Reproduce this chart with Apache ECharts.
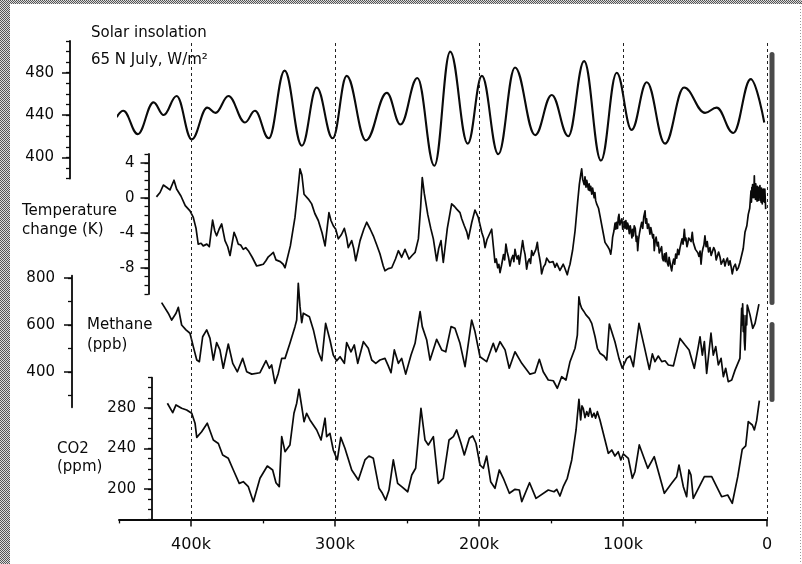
<!DOCTYPE html>
<html><head><meta charset="utf-8">
<script src="https://cdn.jsdelivr.net/npm/echarts@6/dist/echarts.min.js"></script>
<style>html,body{margin:0;padding:0;background:#fff}#c{width:802px;height:564px}</style>
</head><body><div id="c"></div><script>
// ---- DATA (age in thousands of years before present, value) ----
const ageTickLabels = [0, 100, 200, 300, 400];
const ageMinorTicks = [50, 150, 250, 350, 450];
const dashedAges = [0, 100, 200, 300, 400];

const solarSeries = [[451.6,438],[447,444],[437,422],[426,452],[419,440],[410,458],[399.5,417],[388.7,447],[383,442],[374,458],[362.5,433],[355.6,444],[346,418],[335,482],[323,411],[312.7,466],[301.6,418],[291.9,477],[278.5,416],[264,461],[254.5,431],[242.8,475],[231,392],[220,500],[207.8,413],[198,477],[186.6,403],[175,485],[161,421],[149.5,459],[138,420],[127,491],[115.3,397],[104.4,480],[94,426],[83.5,471],[70.8,413],[57.6,466],[43,442],[35,447],[23.4,423],[11.3,474],[1.9,433]];

const tempSeries = [[424,0.1],[421.5,0.6],[419.2,1.45],[417,1.2],[414.6,0.9],[411.8,2.0],[410,1.0],[407,0.2],[404,-0.9],[400.7,-1.5],[398.4,-2.25],[396.5,-3.5],[395,-5.3],[393,-5.2],[391.5,-5.5],[389,-5.3],[387.3,-5.6],[385,-2.55],[383.5,-3.8],[382.2,-4.35],[380.5,-3.6],[378.7,-3.0],[376.4,-4.9],[374.5,-5.6],[372.9,-6.6],[370.1,-3.95],[368.5,-4.6],[367.2,-5.3],[365.5,-5.4],[363.7,-5.9],[362,-5.7],[360.2,-6.05],[357.5,-6.8],[354.4,-7.8],[352,-7.7],[349.8,-7.6],[348,-7.2],[346.3,-6.75],[344.5,-6.5],[342.8,-6.25],[341,-7.1],[338,-7.3],[336,-7.6],[334.7,-8.0],[331,-5.5],[327.8,-2.25],[326,0.5],[324.3,3.3],[323,2.6],[321.5,0.4],[320.8,0.2],[318.5,-0.15],[316.2,-0.7],[314,-1.8],[311.6,-2.6],[309,-4.0],[306.9,-5.5],[304.2,-1.7],[302.8,-2.6],[301.2,-3.2],[299.5,-3.6],[297.7,-4.7],[295.5,-4.2],[293.5,-3.5],[292,-4.5],[290.8,-5.7],[288.4,-4.9],[287,-5.8],[285.6,-7.2],[284,-6.0],[282.6,-4.9],[280,-3.6],[278,-2.8],[275.5,-3.6],[273.4,-4.35],[271,-5.4],[268.8,-6.4],[266.5,-7.8],[265.3,-8.35],[263,-8.1],[260.6,-8.0],[258,-7.0],[256,-6.05],[253.7,-6.8],[251.4,-5.9],[248.6,-7.0],[246.5,-6.6],[244.4,-6.25],[242.1,-4.7],[240.5,-1.0],[239.4,2.3],[238,0.5],[235.6,-1.9],[233.5,-3.5],[231.7,-4.7],[229.4,-7.2],[228,-5.8],[226.4,-4.9],[224.8,-7.4],[222,-3.5],[219,-0.7],[217,-1.0],[215.5,-1.3],[213.2,-1.7],[212,-2.4],[210.2,-3.2],[208.5,-3.9],[207.4,-4.7],[205,-2.8],[202.8,-1.4],[200.5,-2.25],[198,-4.0],[196.8,-4.6],[195.8,-5.7],[194.5,-4.8],[193.5,-4.6],[192.3,-4.0],[191.2,-3.6],[190,-5.6],[188.9,-7.4],[188,-7.0],[187,-8.0],[186.2,-7.6],[185.4,-8.55],[184.2,-7.6],[183,-6.5],[182.2,-7.1],[181.3,-5.3],[180.4,-6.2],[179.5,-6.8],[178.5,-7.8],[177.5,-7.0],[176.5,-6.6],[175.8,-7.3],[175,-5.9],[174.2,-6.6],[173.5,-7.0],[172.7,-6.6],[172,-7.6],[170.8,-6.2],[169.7,-4.9],[168.8,-5.9],[168,-6.5],[167.4,-7.4],[166.9,-8.15],[166,-7.3],[165,-7.0],[164.2,-7.5],[163.4,-6.05],[162.4,-6.6],[161.5,-6.8],[160.5,-5.9],[159.5,-5.1],[158.8,-6.1],[158,-6.8],[157.2,-7.6],[156.5,-8.7],[155.2,-7.9],[154,-7.6],[153,-6.9],[151.9,-6.8],[151,-7.4],[150,-7.6],[148.6,-7.3],[147.2,-7.95],[146,-7.5],[145,-7.6],[143.8,-8.3],[142.6,-8.15],[141.5,-7.6],[140.5,-8.0],[139.6,-8.4],[138.7,-8.8],[137.7,-8.1],[136.8,-7.6],[135,-6.0],[133.3,-3.8],[131.5,-0.5],[130.3,1.55],[129.4,2.6],[128.7,3.3],[128,2.1],[127.5,2.2],[127,1.5],[126.4,2.4],[125.7,1.2],[125.2,2.0],[124.5,1.9],[124,0.9],[123.5,1.6],[123,0.8],[122.4,1.3],[121.7,0.4],[121.1,1.1],[120.5,0.9],[120,0.0],[119.5,0.6],[119,-0.3],[118.3,-0.7],[117,-1.2],[116,-2.05],[114,-3.8],[112.5,-5.1],[111.5,-5.0],[110.5,-5.6],[109.5,-5.9],[108.5,-6.45],[107.8,-5.6],[107.2,-4.5],[106.3,-3.8],[105.5,-2.9],[105,-3.6],[104.5,-2.8],[103.8,-3.5],[103.3,-2.3],[102.8,-1.9],[102.2,-3.1],[101.5,-3.0],[100.8,-2.4],[100.2,-3.6],[99.8,-3.4],[99.2,-2.7],[98.6,-3.5],[98,-2.6],[97.3,-3.6],[96.8,-2.9],[96.3,-3.2],[95.6,-4.1],[95,-3.2],[94.5,-3.7],[93.8,-4.6],[93.3,-3.6],[92.8,-4.35],[92.2,-3.2],[91.5,-3.5],[90.8,-5.0],[90.3,-4.4],[89.8,-6.05],[89.2,-4.8],[88.5,-4.0],[87.8,-3.4],[87,-2.8],[86.3,-3.5],[85.6,-2.2],[84.7,-1.5],[84.2,-2.9],[83.6,-2.4],[83,-3.5],[82.2,-3.0],[81.3,-4.15],[80.7,-3.4],[80,-3.2],[79.3,-4.6],[78.8,-4.2],[78.3,-6.05],[77.7,-5.0],[77,-4.5],[76.2,-5.5],[75.5,-5.1],[74.8,-6.3],[74,-6.2],[73.2,-5.6],[72.6,-6.9],[72,-7.2],[71.2,-6.4],[70.6,-7.3],[70,-6.3],[69.3,-7.4],[68.5,-7.8],[68,-6.8],[67.5,-6.9],[66.8,-7.9],[66.2,-8.35],[65.5,-7.5],[64.8,-7.0],[64.1,-7.6],[63.4,-6.45],[62.7,-6.9],[62,-5.9],[61.2,-6.5],[60.4,-5.7],[59.7,-5.2],[59,-4.7],[58.3,-5.3],[57.4,-3.6],[56.8,-4.9],[56.3,-4.6],[55.6,-5.6],[55.1,-5.3],[54.4,-4.6],[53.5,-4.5],[52.7,-5.0],[51.9,-3.95],[51.2,-5.1],[50.5,-4.9],[49.7,-5.9],[48.8,-5.7],[48,-6.3],[47.3,-6.7],[46.5,-6.1],[45.8,-7.6],[45.1,-6.3],[44.5,-5.8],[43.8,-5.4],[43.1,-4.35],[42.3,-5.6],[41.5,-5.0],[40.6,-6.2],[39.6,-5.7],[38.8,-6.6],[38,-6.4],[37,-5.7],[36.1,-6.05],[35.3,-7.1],[34.5,-7.0],[33.6,-6.2],[32.6,-6.8],[31.8,-7.6],[31,-7.5],[30.1,-7.0],[29.2,-7.8],[28.3,-7.2],[27.5,-6.9],[26.6,-7.7],[25.7,-7.2],[24.9,-7.9],[24.1,-8.7],[23.1,-7.9],[22,-7.6],[21,-8.3],[19.9,-8.0],[18.8,-7.4],[17.6,-7.6],[16.5,-5.8],[15.3,-3.95],[14,-3.2],[13,-1.9],[12,-1.2],[11.1,0.8],[10.8,-0.5],[10.5,1.2],[10.2,0.0],[10,1.5],[9.7,0.2],[9.5,1.0],[9.2,0.0],[8.8,2.5],[8.5,0.4],[8.3,1.3],[8.0,-0.2],[7.8,1.6],[7.5,0.1],[7.2,1.0],[6.9,-0.4],[6.7,1.3],[6.4,0.0],[6.2,1.1],[5.9,-0.3],[5.6,1.2],[5.3,0.1],[4.9,1.4],[4.6,-0.3],[4.4,0.9],[4.1,-0.5],[3.8,1.1],[3.5,0.0],[3.3,-0.7],[3.0,0.9],[2.8,-0.2],[2.5,1.0],[2.3,-0.4],[2.0,0.8],[1.8,-0.5],[1.5,1.0],[1.2,-0.2],[0.9,-1.3]];

const methaneSeries = [[420.4,695],[415.8,650],[413.4,621],[410.4,650],[408.8,675],[406.5,600],[403.5,579],[400.7,565],[398.4,508],[396,451],[394.2,444],[391.9,550],[389.1,579],[386.8,543],[384.5,451],[382.2,525],[379.9,494],[377.6,416],[374.1,519],[371,437],[367.8,401],[364.1,458],[361.3,401],[357.8,391],[352.1,397],[347.9,448],[345.6,416],[344,430],[341.7,352],[339.4,394],[337,458],[334.7,458],[331.3,522],[327.8,593],[326.6,621],[325.5,777],[324.3,678],[323.1,610],[322,650],[320.8,643],[317.8,635],[315,579],[311.6,486],[309.2,448],[306.5,607],[303.5,536],[301.2,472],[298.8,448],[296.5,465],[293.5,437],[291.9,525],[288.9,486],[286.6,515],[284.2,437],[280.3,529],[276.9,501],[274.5,451],[271.7,437],[268.8,451],[265.3,458],[263,426],[261.1,397],[258.8,494],[256,437],[253.7,458],[250.9,391],[247.2,472],[244.4,522],[240.9,657],[239.4,593],[236.3,536],[234,451],[229.4,539],[225.9,494],[223.1,486],[219.4,593],[216.7,586],[213.2,522],[209.7,423],[205.1,621],[202.8,572],[199.3,465],[194.7,444],[190.1,522],[188.2,486],[185.4,529],[181.9,494],[179,416],[175,486],[170.3,437],[164.6,391],[161.1,397],[158.1,454],[155.4,401],[151.9,366],[148.4,363],[145.6,331],[142.6,380],[139.6,366],[136.8,444],[133.3,501],[131.7,557],[130.6,720],[129.8,690],[128.7,671],[127.4,660],[125.7,643],[123.5,628],[121.7,607],[119.4,550],[117.8,501],[116,480],[113.2,468],[111.3,451],[109.5,604],[105.6,529],[102.8,458],[100.5,416],[97.4,458],[95.1,468],[92.8,423],[88.9,607],[85.2,508],[81.7,411],[79.6,477],[77.8,444],[75.5,468],[73.1,444],[70.8,448],[68.5,430],[65,426],[60.4,543],[56.9,515],[54.1,494],[50.5,416],[47.7,508],[46.5,550],[44.9,472],[43.5,529],[41.9,394],[38.9,565],[37.3,472],[35.6,508],[33.8,430],[31.9,458],[30.3,380],[28.7,416],[26.9,359],[24.5,366],[22.2,408],[18.8,458],[17.6,671],[17.2,600],[16.9,690],[16.5,572],[16.1,640],[15.7,530],[15.3,494],[14.9,560],[14.5,640],[14.1,600],[13.7,685],[11.8,643],[9.9,586],[8.3,607],[5.6,689]];

const co2Series = [[416.4,284.7],[412.7,275.4],[410.4,283],[406.5,279.7],[403,278],[399.5,274.8],[397.2,265],[396,251],[392.6,256.6],[388.7,265],[384.5,248.4],[381,245],[378,233.6],[374.1,230.3],[370.6,218.8],[366.5,205.6],[363.7,207.2],[360.2,202.3],[356.7,187.5],[352.1,210.6],[347,222.7],[343.3,218.8],[341,206.2],[338.7,202.3],[337,251.7],[334.7,236.9],[331.3,243.5],[328.5,274.8],[326.6,284.7],[325,298.5],[323.1,281.3],[321.5,266.5],[319.7,274.8],[317.4,268.2],[312.7,258.3],[309.7,248.4],[306.9,269.9],[305.8,251.7],[303.5,255],[301.2,238.5],[298.4,228.7],[296,251],[293.1,240.2],[288.4,218.8],[283.8,208.9],[279.2,228.7],[276.4,232.6],[273.4,230.3],[269.4,200.7],[267.1,195.8],[264.8,189.1],[262.5,199],[259.5,228.7],[256.5,205.6],[253.7,202.3],[249.5,197.3],[246.7,213.8],[244,220.5],[240.3,279.7],[237.5,248.4],[235.2,243.5],[231.7,251.7],[228.3,205.6],[224.8,210.6],[220.8,248.4],[217.8,251.7],[215.5,258.3],[212.5,245.2],[210.2,233.6],[206.7,250.1],[204.4,252.4],[202.1,245.2],[199.3,223.7],[197,220.5],[194.7,232.6],[191.9,207.2],[188.9,200.7],[185.9,218.8],[183.1,210.6],[178.9,195.8],[175,199.7],[172,199],[170.3,187.5],[164.9,206.2],[160.4,190.8],[151.9,199],[147.9,197.3],[146,199.7],[143.8,193.1],[141.5,202.3],[138.7,210.6],[135.6,228.7],[132.6,258.3],[130.6,288.6],[129.4,268.2],[128.5,282],[127.6,279.7],[126.4,270.5],[125.2,276.4],[124,272],[122.9,279.7],[121.5,271],[120.1,274.8],[119,270],[117.8,276.4],[116,268.2],[112.5,248.4],[110.2,235.3],[107.8,238.5],[105.6,232.6],[103.3,236.9],[101.5,228.7],[99.8,234.6],[96.3,230.3],[93.5,210.6],[91.7,217.1],[88.7,243.5],[82.8,220.5],[78.3,231.9],[71.3,195.8],[66.2,205.6],[62.7,212.2],[61.1,223.7],[58.1,202.3],[55.8,192.4],[54.2,218.8],[52.8,213.8],[51.2,190.8],[43.5,212.2],[38.4,212.2],[31.5,192.4],[27.3,194.1],[24.1,185.9],[20.3,212.2],[17.2,239.2],[14.8,242.5],[13,266.5],[10.2,263.2],[8.8,258.3],[7.2,267.5],[5.3,287.2]];

const solarTickLabels = [400, 440, 480];
const solarMinorTicks = [380,390,400,410,420,430,440,450,460,470,480,490,500,510];
const tempTickLabels = [-8, -4, 0, 4];
const tempMinorTicks = [-11,-10,-9,-8,-7,-6,-5,-4,-3,-2,-1,0,1,2,3,4,5];
const methaneTickLabels = [400, 600, 800];
const methaneMinorTicks = [300, 400, 500, 600, 700, 800];
const co2TickLabels = [200, 240, 280];
const co2MinorTicks = [170,180,190,200,210,220,230,240,250,260,270,280,290,300,310];

// ---- LAYOUT ----
const FONT = '"DejaVu Sans", "Liberation Sans", Arial, sans-serif';
const INK = '#0a0a0a';
const GL = 119, GR = 35, AGE_MAX = 450;
const panels = [
  {top: 41,    height: 137.5, min: 380, max: 510, axisX: 70,    labels: solarTickLabels,   minors: solarMinorTicks,   margin: 16},
  {top: 154,   height: 140,   min: -11, max: 5,   axisX: 148.5, labels: tempTickLabels,    minors: tempMinorTicks,    margin: 14},
  {top: 275.6, height: 131.7, min: 250, max: 810, axisX: 72,    labels: methaneTickLabels, minors: methaneMinorTicks, margin: 17},
  {top: 377.6, height: 141.8, min: 170, max: 310, axisX: 152,   labels: co2TickLabels,     minors: co2MinorTicks,     margin: 16}
];

const grids = panels.map(p => ({left: GL, right: GR, top: p.top, height: p.height, containLabel: false}));
grids.push({left: GL, right: GR, top: 40, bottom: 44}); // background grid for dashed guides

const xAxes = [];
for (let i = 0; i < 4; i++) {
  xAxes.push({type: 'value', gridIndex: i, min: 0, max: AGE_MAX, inverse: true, show: false, axisLine: {onZero: false}});
}
xAxes.push({
  type: 'value', gridIndex: 3, min: 0, max: AGE_MAX, inverse: true, position: 'bottom', offset: 0,
  axisLine: {show: true, onZero: false, lineStyle: {color: INK, width: 1.8}},
  axisTick: {show: true, inside: false, length: 7, customValues: ageTickLabels, lineStyle: {color: INK, width: 1.5}},
  axisLabel: {show: true, customValues: ageTickLabels, margin: 17, fontFamily: FONT, fontSize: 16, color: INK,
    formatter: v => v === 0 ? '0' : v + 'k'},
  splitLine: {show: false}
});
xAxes.push({
  type: 'value', gridIndex: 3, min: 0, max: AGE_MAX, inverse: true, position: 'bottom', offset: 0,
  axisLine: {show: false, onZero: false},
  axisTick: {show: true, inside: false, length: 4, customValues: ageMinorTicks, lineStyle: {color: INK, width: 1.3}},
  axisLabel: {show: false}, splitLine: {show: false}
});
xAxes.push({type: 'value', gridIndex: 4, min: 0, max: AGE_MAX, inverse: true, show: false, axisLine: {onZero: false}});

const yAxes = [];
panels.forEach((p, i) => {
  yAxes.push({
    type: 'value', gridIndex: i, min: p.min, max: p.max, position: 'left', offset: GL - p.axisX,
    axisLine: {show: true, onZero: false, lineStyle: {color: INK, width: 1.8}},
    axisTick: {show: true, inside: false, length: 8, customValues: p.labels, lineStyle: {color: INK, width: 1.5}},
    axisLabel: {show: true, customValues: p.labels, margin: p.margin, fontFamily: FONT, fontSize: 15, color: INK},
    splitLine: {show: false}
  });
  yAxes.push({
    type: 'value', gridIndex: i, min: p.min, max: p.max, position: 'left', offset: GL - p.axisX,
    axisLine: {show: false, onZero: false},
    axisTick: {show: true, inside: false, length: 4, customValues: p.minors, lineStyle: {color: INK, width: 1.3}},
    axisLabel: {show: false}, splitLine: {show: false}
  });
});
yAxes.push({type: 'value', gridIndex: 4, min: 0, max: 1, show: false, axisLine: {onZero: false}});

const lineBase = {type: 'line', showSymbol: false, symbol: 'none', silent: true, z: 3};

const series = [
  Object.assign({}, lineBase, {xAxisIndex: 0, yAxisIndex: 0, data: solarSeries, smooth: 0.4, smoothMonotone: 'x', clip: false,
    lineStyle: {color: INK, width: 2.1}}),
  Object.assign({}, lineBase, {xAxisIndex: 1, yAxisIndex: 2, data: tempSeries, lineStyle: {color: INK, width: 1.7, join: 'round'}}),
  Object.assign({}, lineBase, {xAxisIndex: 2, yAxisIndex: 4, data: methaneSeries, lineStyle: {color: INK, width: 1.7, join: 'round'}}),
  Object.assign({}, lineBase, {xAxisIndex: 3, yAxisIndex: 6, data: co2Series, lineStyle: {color: INK, width: 1.7, join: 'round'}}),
  {
    type: 'scatter', xAxisIndex: 6, yAxisIndex: 8, symbolSize: 0, silent: true, z: 1,
    data: dashedAges.map(a => [a, 0]),
    markLine: {
      silent: true, symbol: ['none', 'none'], label: {show: false}, animation: false,
      lineStyle: {color: '#222', width: 1, type: [3, 3]},
      data: dashedAges.map(a => ({xAxis: a}))
    }
  }
];

// dither pattern for the scanned border
const pat = document.createElement('canvas');
pat.width = 2; pat.height = 2;
const pc = pat.getContext('2d');
pc.fillStyle = '#dcdcdc'; pc.fillRect(0, 0, 2, 2);
pc.fillStyle = '#555'; pc.fillRect(0, 0, 1, 1); pc.fillRect(1, 1, 1, 1);

function txt(x, y, s, size) {
  return {type: 'text', x: x, y: y, silent: true, z: 10,
    style: {text: s, font: (size || 15) + 'px ' + FONT, fill: INK, align: 'left', verticalAlign: 'middle'}};
}

const graphics = [
  {type: 'rect', shape: {x: 0, y: 0, width: 10, height: 564}, style: {fill: {image: pat, repeat: 'repeat'}}, silent: true, z: 0},
  {type: 'rect', shape: {x: 0, y: 0, width: 802, height: 4}, style: {fill: {image: pat, repeat: 'repeat'}}, silent: true, z: 0},
  {type: 'line', shape: {x1: 800.5, y1: 0, x2: 800.5, y2: 564}, style: {stroke: '#999', lineWidth: 1, lineDash: [1, 2]}, silent: true},
  {type: 'rect', shape: {x: 769.5, y: 52, width: 5, height: 253, r: 2.5}, style: {fill: '#4a4a4a'}, silent: true},
  {type: 'rect', shape: {x: 769.5, y: 322, width: 5, height: 80, r: 2.5}, style: {fill: '#4a4a4a'}, silent: true},
  txt(91, 33, 'Solar insolation'),
  txt(91, 60, '65 N July, W/m²'),
  txt(22, 211, 'Temperature'),
  txt(22, 230, 'change (K)'),
  txt(87, 325, 'Methane'),
  txt(87, 345, '(ppb)'),
  txt(57, 449, 'CO2'),
  txt(57, 467, '(ppm)')
];

const chart = echarts.init(document.getElementById('c'), null, {renderer: 'canvas'});
chart.setOption({
  animation: false,
  backgroundColor: '#fff',
  grid: grids,
  xAxis: xAxes,
  yAxis: yAxes,
  series: series,
  graphic: graphics
});
</script></body></html>
